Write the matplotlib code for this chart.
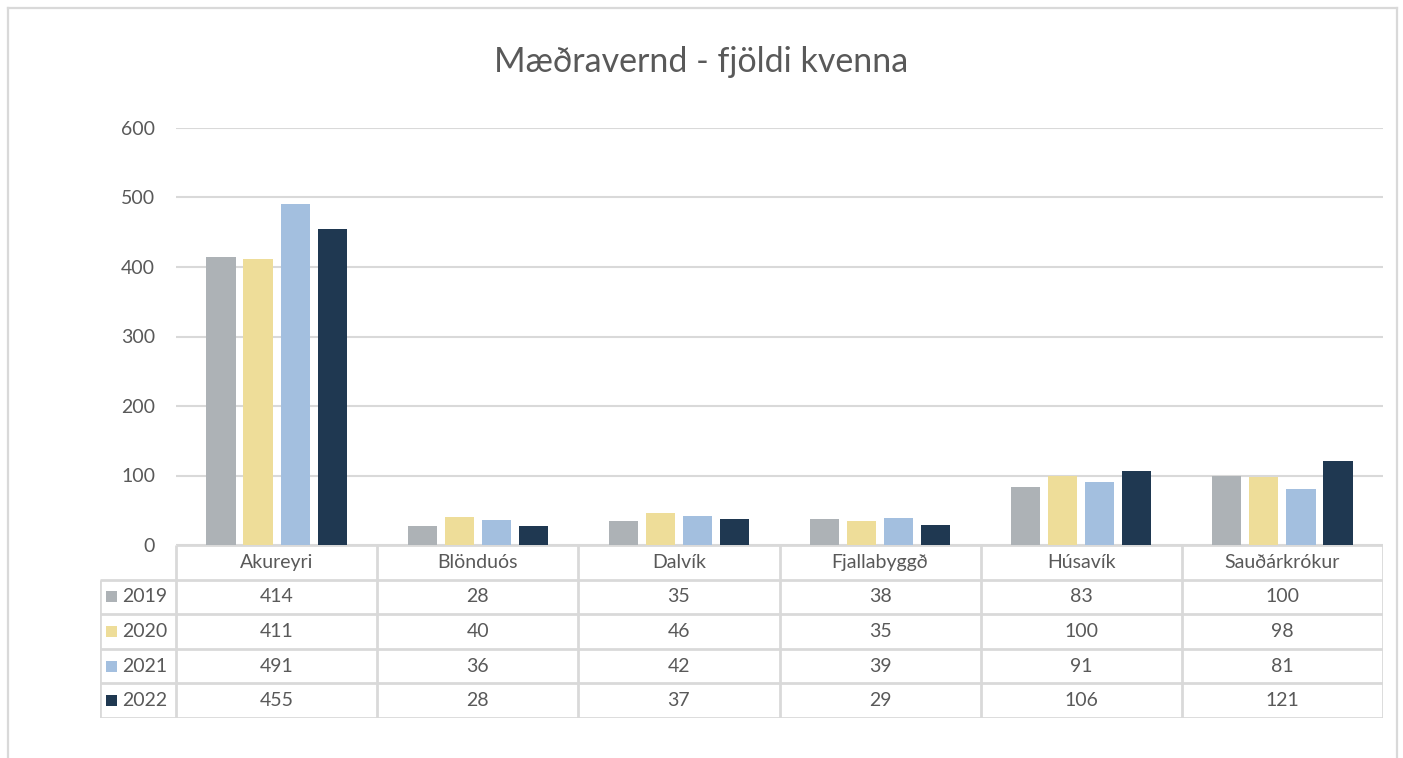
import matplotlib
matplotlib.use("Agg")
import matplotlib.pyplot as plt
from matplotlib.lines import Line2D
from matplotlib.patches import Rectangle

plt.rcParams['font.family'] = ['Lato', 'DejaVu Sans']

# data
categories = ["Akureyri", "Blönduós", "Dalvík", "Fjallabyggð", "Húsavík", "Sauðárkrókur"]
years = ["2019", "2020", "2021", "2022"]
v2019 = [414, 28, 35, 38, 83, 100]
v2020 = [411, 40, 46, 35, 100, 98]
v2021 = [491, 36, 42, 39, 91, 81]
v2022 = [455, 28, 37, 29, 106, 121]
series = [v2019, v2020, v2021, v2022]
colors = ["#adb2b6", "#eedd99", "#a3bfdf", "#1f3851"]
yticks = [0, 100, 200, 300, 400, 500, 600]

W, H = 1403, 758
GRID = "#d9d9d9"
TXT = "#595959"
FS = 14

fig = plt.figure(figsize=(W / 100, H / 100), dpi=100)
fig.patch.set_facecolor("white")

# outer chart border (bottom edge is cut off in the reference)
for xs, ys in [([8, 8], [758, 8]), ([8, 1397], [8, 8]), ([1397, 1397], [8, 758])]:
    fig.add_artist(Line2D([x / W for x in xs], [1 - y / H for y in ys],
                          transform=fig.transFigure, color=GRID, lw=1.6))

# plot area
left, right, top, base = 176, 1383, 128, 545
ax = fig.add_axes([left / W, 1 - base / H, (right - left) / W, (base - top) / H])
ax.set_xlim(0, len(categories))
ax.set_ylim(0, 600)
ax.set_yticks(yticks)
ax.set_xticks([])
ax.grid(axis="y", color=GRID, lw=1.5)
ax.set_axisbelow(True)
for s in ax.spines.values():
    s.set_visible(False)
ax.tick_params(axis="y", length=0, pad=15, labelsize=FS, labelcolor=TXT)

step, width = 0.184, 0.145
for i, (vals, c) in enumerate(zip(series, colors)):
    xs = [k + 0.5 + (i - 1.5) * step for k in range(len(categories))]
    ax.bar(xs, vals, width=width, color=c, zorder=3)

# data table under the axis
tleft, tbottom = 100, 718
tax = fig.add_axes([tleft / W, 1 - tbottom / H, (right - tleft) / W, (tbottom - base) / H])
x0 = -(left - tleft) / ((right - left) / len(categories))
tax.set_xlim(x0, len(categories))
tax.set_ylim(5, 0)
tax.axis("off")

n = len(categories)
lw = 2.0
# horizontal lines
tax.plot([0, n], [0, 0], color=GRID, lw=lw, solid_capstyle="butt")
for r in range(1, 6):
    tax.plot([x0, n], [r, r], color=GRID, lw=lw, solid_capstyle="butt")
# vertical lines
tax.plot([x0, x0], [1, 5], color=GRID, lw=lw, solid_capstyle="butt")
for k in range(n + 1):
    tax.plot([k, k], [0, 5], color=GRID, lw=lw, solid_capstyle="butt")

for k, cat in enumerate(categories):
    tax.text(k + 0.5, 0.5, cat, ha="center", va="center", fontsize=FS, color=TXT)
    for r, vals in enumerate(series):
        tax.text(k + 0.5, r + 1.5, str(vals[k]), ha="center", va="center",
                 fontsize=FS, color=TXT)

sq = 0.055
for r, (yr, c) in enumerate(zip(years, colors)):
    tax.add_patch(Rectangle((x0 + 0.028, r + 1.5 - 0.16), sq, 0.32, color=c, lw=0))
    tax.text(x0 + 0.11, r + 1.5, yr, ha="left", va="center", fontsize=FS, color=TXT)

fig.text(0.5, 1 - 62 / H, "Mæðravernd - fjöldi kvenna", ha="center", va="center",
         fontsize=24.5, color=TXT)

fig.savefig("out.png", dpi=100, facecolor="white")
